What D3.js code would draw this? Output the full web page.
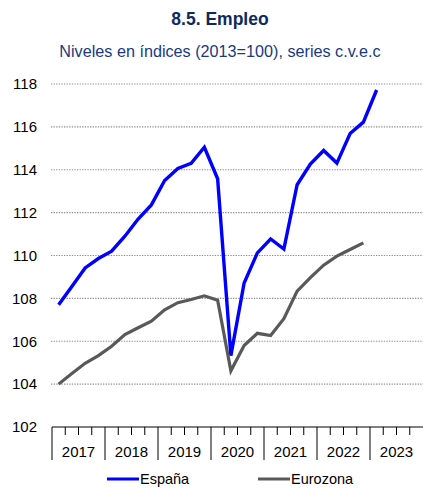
<!DOCTYPE html>
<html>
<head>
<meta charset="utf-8">
<script src="https://cdn.jsdelivr.net/npm/d3@7"></script>
<style>
  html, body { margin: 0; padding: 0; background: #fff; }
  svg { display: block; font-family: Arial, "Liberation Sans", sans-serif; }
</style>
</head>
<body>
<svg id="chart" width="423" height="488"></svg>
<script>
// Quarterly employment indices (2013=100), seasonally and calendar adjusted
const years = ["2017", "2018", "2019", "2020", "2021", "2022", "2023"];
const quarters = ["T1", "T2", "T3", "T4"];
const espana = [107.7, 108.55, 109.42, 109.86, 110.2, 110.9, 111.7, 112.36,
                113.5, 114.06, 114.3, 115.05, 113.58, 105.33, 108.72, 110.12,
                110.77, 110.3, 113.3, 114.27, 114.9, 114.31, 115.69, 116.22,
                117.72];
const eurozona = [104.0, 104.5, 104.97, 105.33, 105.77, 106.31, 106.63, 106.94,
                  107.47, 107.8, 107.95, 108.12, 107.91, 104.62, 105.8, 106.37,
                  106.27, 107.05, 108.34, 108.97, 109.55, 109.97, 110.28, 110.59];
const yTicks = [102, 104, 106, 108, 110, 112, 114, 116, 118];
const seriesNames = ["España", "Eurozona"];
const seriesColors = ["#0000ff", "#595959"];

const periods = years.flatMap(yr => quarters.map(q => yr + q));

const svg = d3.select("#chart");
const plotLeft = 52, plotRight = 423, plotTop = 84, plotBottom = 427;

const x = d3.scaleBand().domain(periods).range([plotLeft, plotRight]);
const xYear = d3.scaleBand().domain(years).range([plotLeft, plotRight]);
const y = d3.scaleLinear().domain([102, 118]).range([plotBottom, plotTop]);

// Titles
svg.append("text").attr("x", 220).attr("y", 25).attr("text-anchor", "middle")
  .attr("font-size", 17.5).attr("font-weight", "bold").attr("fill", "#0c2a5e")
  .text("8.5. Empleo");
svg.append("text").attr("x", 220).attr("y", 57).attr("text-anchor", "middle")
  .attr("font-size", 16.2).attr("fill", "#1a3a80")
  .text("Niveles en índices (2013=100), series c.v.e.c");

// Dotted horizontal gridlines
svg.append("g").selectAll("line").data(yTicks.filter(v => v > 102)).join("line")
  .attr("x1", plotLeft - 1).attr("x2", plotRight)
  .attr("y1", d => y(d)).attr("y2", d => y(d))
  .attr("stroke", "#8c8c8c").attr("stroke-width", 1.2)
  .attr("stroke-dasharray", "1.3,1.3");

// Y axis labels
const yAxis = d3.axisLeft(y).tickValues(yTicks).tickSize(0).tickPadding(0);
const gy = svg.append("g").attr("transform", "translate(37,0)").call(yAxis);
gy.select(".domain").remove();
gy.selectAll("text").attr("font-size", 15).attr("fill", "#000")
  .attr("font-family", "Arial, 'Liberation Sans', sans-serif");

// X axis: quarter ticks and year separators
const gx = svg.append("g");
gx.append("line").attr("x1", plotLeft).attr("x2", plotRight)
  .attr("y1", plotBottom).attr("y2", plotBottom).attr("stroke", "#000").attr("stroke-width", 1);
gx.selectAll("line.q").data(periods.filter((p, i) => i % 4 !== 0)).join("line")
  .attr("class", "q")
  .attr("x1", d => x(d)).attr("x2", d => x(d))
  .attr("y1", plotBottom).attr("y2", plotBottom + 8)
  .attr("stroke", "#000").attr("stroke-width", 1);
gx.selectAll("line.yr").data(years).join("line")
  .attr("class", "yr")
  .attr("x1", d => xYear(d)).attr("x2", d => xYear(d))
  .attr("y1", plotBottom).attr("y2", plotBottom + 33)
  .attr("stroke", "#000").attr("stroke-width", 1);
gx.selectAll("text").data(years).join("text")
  .attr("x", d => xYear(d) + xYear.bandwidth() / 2)
  .attr("y", 457).attr("text-anchor", "middle")
  .attr("font-size", 15).attr("fill", "#000")
  .text(d => d);

// Series lines
const line = d3.line()
  .x((d, i) => x(periods[i]) + x.bandwidth() / 2)
  .y(d => y(d));
[espana, eurozona].forEach((data, k) => {
  svg.append("path").datum(data)
    .attr("d", line)
    .attr("fill", "none")
    .attr("stroke", seriesColors[k])
    .attr("stroke-width", k === 0 ? 3.4 : 3.2)
    .attr("stroke-linejoin", "miter");
});

// Legend
const legendX = [107, 258];
seriesNames.forEach((name, k) => {
  svg.append("line").attr("x1", legendX[k]).attr("x2", legendX[k] + 32)
    .attr("y1", 479).attr("y2", 479)
    .attr("stroke", seriesColors[k]).attr("stroke-width", 3);
  svg.append("text").attr("x", legendX[k] + 33).attr("y", 484)
    .attr("font-size", 14.5).attr("fill", "#000").text(name);
});
</script>
</body>
</html>
